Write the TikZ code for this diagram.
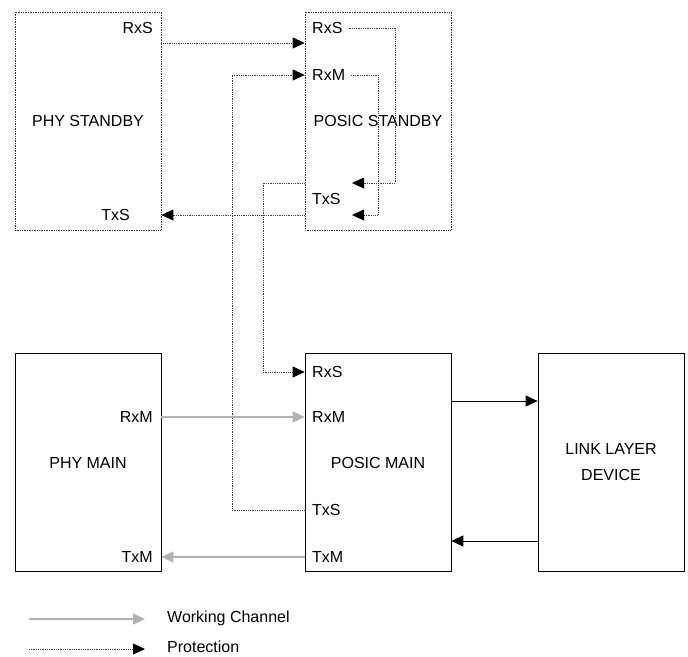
\documentclass[tikz,border=0pt]{standalone}
\usepackage{fontspec}
\setmainfont{Liberation Sans}
\usetikzlibrary{arrows.meta}
\begin{document}
\begin{tikzpicture}[x=1pt,y=-1pt,
 lbl/.style={inner sep=0pt,font=\fontsize{16}{20}\selectfont},
 box/.style={draw,line width=0.7pt,minimum width=146pt,minimum height=218pt,inner sep=0pt,align=center,font=\fontsize{16}{26}\selectfont},
 sbox/.style={box,draw=black!80,densely dotted},
 prot/.style={draw=black!75,densely dotted,line width=0.8pt,-{Triangle[length=12pt,width=11pt,color=black]}},
 work/.style={draw=black!30,line width=1.3pt,-{Triangle[length=12pt,width=11pt]}},
 link/.style={draw=black,line width=0.9pt,-{Triangle[length=12pt,width=11pt]}}]
\useasboundingbox (0,0) rectangle (688,656);
% boxes
\node[sbox] (psb) at (88,121) {PHY STANDBY};
\node[sbox] (posb) at (378,121) {POSIC STANDBY};
\node[box] (pm) at (88,462.5) {PHY MAIN};
\node[box] (posm) at (378,462.5) {POSIC MAIN};
\node[box] (lk) at (611,462.5) {LINK LAYER\\DEVICE};
% port labels
\node[lbl,anchor=east] (psbRxS) at (153,28) {RxS};
\node[lbl,anchor=east] (psbTxS) at (130,215) {TxS};
\node[lbl,anchor=west] (sRxS) at (312,28) {RxS};
\node[lbl,anchor=west] (sRxM) at (312,75) {RxM};
\node[lbl,anchor=west] (sTxS) at (312,199) {TxS};
\node[lbl,anchor=east] (pmRxM) at (153,417) {RxM};
\node[lbl,anchor=east] (pmTxM) at (153,557) {TxM};
\node[lbl,anchor=west] (mRxS) at (312,372) {RxS};
\node[lbl,anchor=west] (mRxM) at (312,417) {RxM};
\node[lbl,anchor=west] (mTxS) at (312,510) {TxS};
\node[lbl,anchor=west] (mTxM) at (312,557) {TxM};
% turning points
\coordinate (c1) at (395,183);
\coordinate (c2) at (378,215);
\coordinate (e1) at (352,183);
\coordinate (e2) at (352,215);
\coordinate (c3) at (263,372);
\coordinate (c4) at (232,75);
% protection
\draw[prot] (psb.east |- 0,43) -- (posb.west |- 0,43);
\draw[prot] (posb.west |- 0,215) -- (psb.east |- 0,215);
\draw[prot] ([xshift=6pt]sRxS.east) -| (c1) -- (e1);
\draw[prot] ([xshift=6pt]sRxM.east) -| (c2) -- (e2);
\draw[prot] (posb.west |- e1) -| (c3) -- (posm.west |- c3);
\draw[prot] (posm.west |- mTxS.center) -| (c4) -- (posb.west |- c4);
% working
\draw[work] (pm.east |- pmRxM.center) -- (posm.west |- mRxM.center);
\draw[work] (posm.west |- mTxM.center) -- (pm.east |- pmTxM.center);
% link
\draw[link] (posm.east |- 0,401) -- (lk.west |- 0,401);
\draw[link] (lk.west |- 0,541) -- (posm.east |- 0,541);
% legend
\coordinate (w1) at (29,619);
\coordinate (w2) at (145,619);
\coordinate (p1) at (29,649);
\coordinate (p2) at (145,649);
\draw[work] (w1) -- (w2);
\draw[prot] (p1) -- (p2);
\node[lbl,anchor=west] (lw) at (167,618) {Working Channel};
\node[lbl,anchor=west] (lp) at (167,647) {Protection};
\end{tikzpicture}
\end{document}
